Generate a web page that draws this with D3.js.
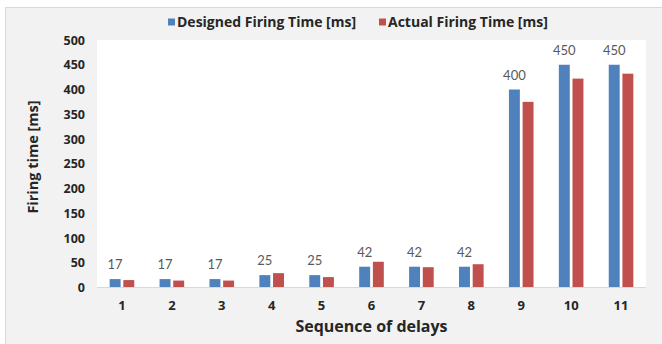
<!DOCTYPE html>
<html>
<head>
<meta charset="utf-8">
<script src="https://cdn.jsdelivr.net/npm/d3@7/dist/d3.min.js"></script>
<style>
  html, body { margin: 0; padding: 0; background: #ffffff; }
  svg { display: block; }
  text { font-family: Lato, "Liberation Sans", sans-serif; }
  .bold { font-family: "Open Sans", "Liberation Sans", sans-serif; font-weight: bold; }
</style>
</head>
<body>
<svg id="chart" width="662" height="344"></svg>
<script>
// Firing time per delay in the sequence
const categories = ["1", "2", "3", "4", "5", "6", "7", "8", "9", "10", "11"];
const seriesNames = ["Designed Firing Time [ms]", "Actual Firing Time [ms]"];
const designed = [17, 17, 17, 25, 25, 42, 42, 42, 400, 450, 450];
const actual = [15, 14, 14, 29, 21, 52, 41, 47, 375, 422, 432];
const yTicks = [0, 50, 100, 150, 200, 250, 300, 350, 400, 450, 500];
const colors = ["#4f81bd", "#c0504d"];

const svg = d3.select("#chart");

// chart area background and frame
svg.append("rect")
  .attr("x", 5.5).attr("y", 7.5)
  .attr("width", 720).attr("height", 400)
  .attr("fill", "#f2f2f2")
  .attr("stroke", "#d9d9d9");

const plot = { left: 97, right: 646, top: 40, bottom: 287.5 };

svg.append("rect")
  .attr("x", plot.left).attr("y", plot.top)
  .attr("width", plot.right - plot.left)
  .attr("height", plot.bottom - plot.top)
  .attr("fill", "#ffffff");

const x = d3.scaleBand().domain(categories).range([plot.left, plot.right]).padding(0);
const x1 = d3.scaleBand().domain(seriesNames).range([-12.3, 12.3]).paddingInner(0.2);
const y = d3.scaleLinear().domain([0, 500]).range([plot.bottom, plot.top]);

const rows = categories.map((c, i) => ({ cat: c, values: [designed[i], actual[i]] }));

const groups = svg.append("g").selectAll("g")
  .data(rows).join("g")
  .attr("transform", d => `translate(${x(d.cat) + x.bandwidth() / 2},0)`);

groups.selectAll("rect")
  .data(d => d.values.map((v, k) => ({ v, k })))
  .join("rect")
  .attr("x", d => x1(seriesNames[d.k]))
  .attr("y", d => y(d.v))
  .attr("width", x1.bandwidth())
  .attr("height", d => plot.bottom - y(d.v))
  .attr("fill", d => colors[d.k]);

// value labels above the designed bars
groups.append("text")
  .attr("x", x1(seriesNames[0]) + x1.bandwidth() / 2)
  .attr("y", d => y(d.values[0]) - 10)
  .attr("text-anchor", "middle")
  .attr("font-size", 13)
  .attr("fill", "#595959")
  .text(d => d.values[0]);

// baseline
svg.append("line")
  .attr("x1", plot.left).attr("x2", plot.right)
  .attr("y1", plot.bottom).attr("y2", plot.bottom)
  .attr("stroke", "#d9d9d9");

// y axis
const yAxis = svg.append("g")
  .attr("transform", `translate(${plot.left - 12},0)`)
  .call(d3.axisLeft(y).tickValues(yTicks).tickSize(0).tickPadding(0));
yAxis.select(".domain").remove();
yAxis.selectAll("text")
  .attr("class", "bold")
  .attr("font-size", 12.5).attr("fill", "#262626");

// x axis
const xAxis = svg.append("g")
  .attr("transform", `translate(0,${plot.bottom + 13})`)
  .call(d3.axisBottom(x).tickSize(0).tickPadding(0));
xAxis.select(".domain").remove();
xAxis.selectAll("text")
  .attr("class", "bold")
  .attr("font-size", 13).attr("fill", "#262626");

// axis titles
svg.append("text")
  .attr("class", "bold")
  .attr("x", (plot.left + plot.right) / 2)
  .attr("y", 332)
  .attr("text-anchor", "middle")
  .attr("font-size", 16).attr("fill", "#262626")
  .text("Sequence of delays");

svg.append("text")
  .attr("class", "bold")
  .attr("transform", "translate(38,157) rotate(-90)")
  .attr("text-anchor", "middle")
  .attr("font-size", 14.5).attr("fill", "#262626")
  .text("Firing time [ms]");

// legend
const legendX = [168, 379];
const legend = svg.append("g").selectAll("g")
  .data(seriesNames).join("g")
  .attr("transform", (d, i) => `translate(${legendX[i]},22)`);
legend.append("rect")
  .attr("x", 0).attr("y", -3.5)
  .attr("width", 7).attr("height", 7)
  .attr("fill", (d, i) => colors[i]);
legend.append("text")
  .attr("class", "bold")
  .attr("x", 9).attr("y", 0)
  .attr("dy", "0.35em")
  .attr("font-size", 14).attr("fill", "#262626")
  .text(d => d);
</script>
</body>
</html>
